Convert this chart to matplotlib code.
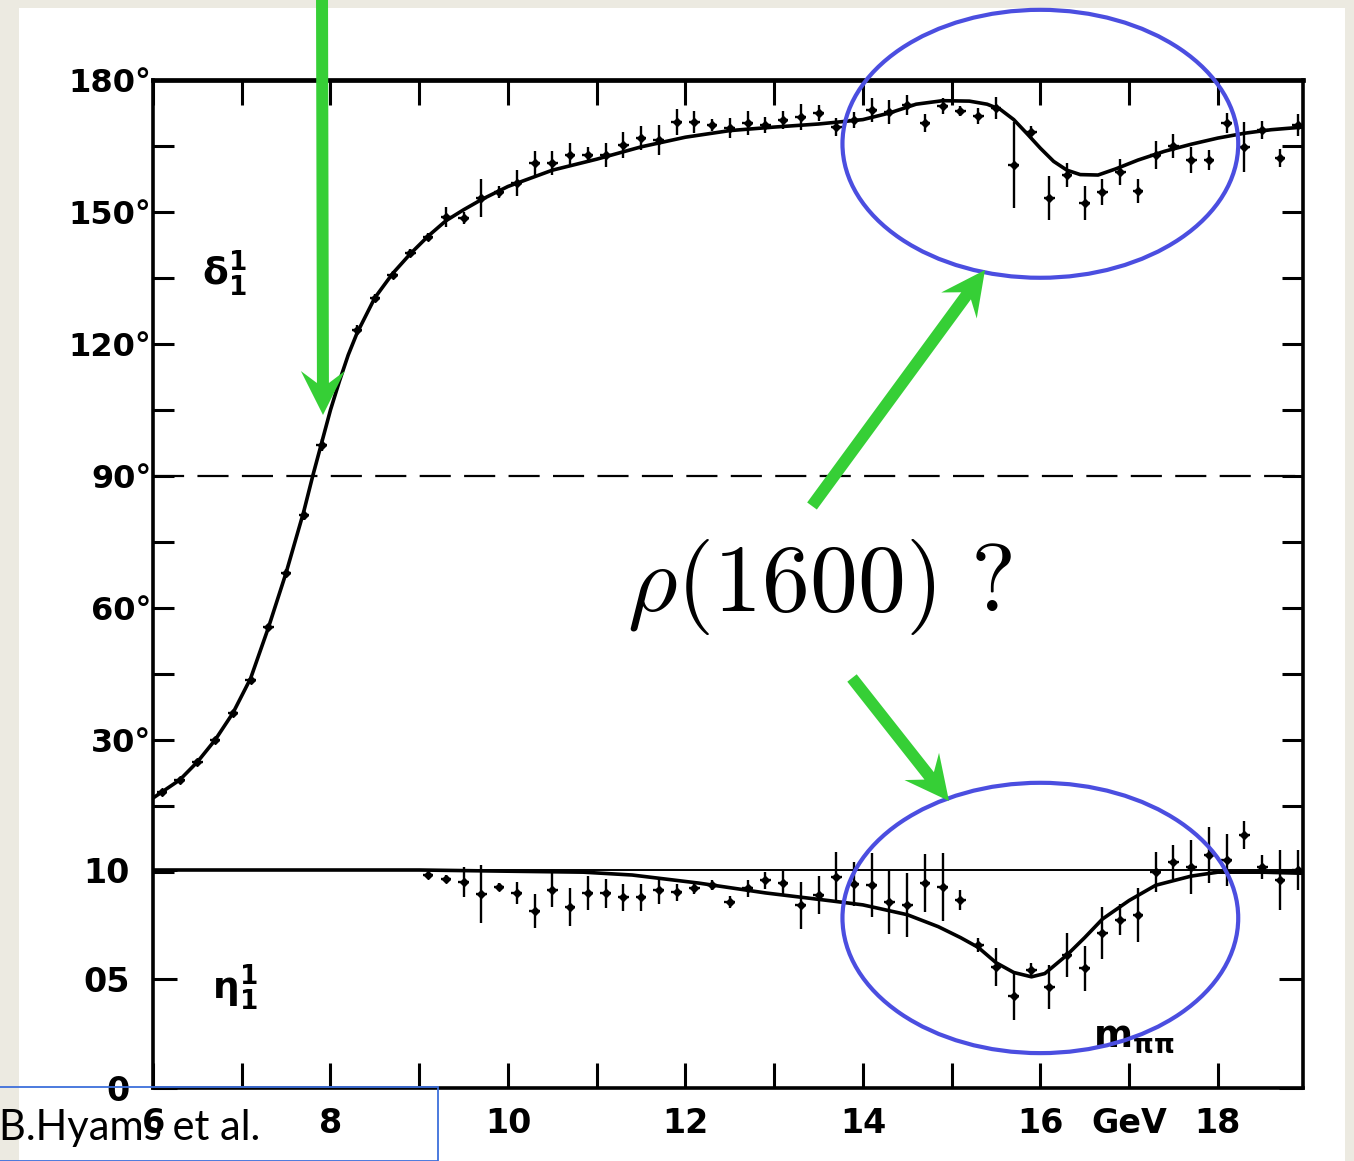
import numpy as np
import matplotlib
matplotlib.use("Agg")
import matplotlib.pyplot as plt
from matplotlib import font_manager
from matplotlib.patches import Ellipse, Polygon, Rectangle

# ---- data (m_pipi in units of 100 MeV) ----
delta_fit_x = [6.0, 6.3, 6.5, 6.7, 6.9, 7.1, 7.3, 7.5, 7.7, 7.8, 7.9, 8.0, 8.1, 8.2,
               8.3, 8.5, 8.7, 8.9, 9.1, 9.3, 9.5, 9.7, 10.0, 10.5, 11.0, 11.5, 12.0,
               12.5, 13.0, 13.5, 14.0, 14.3, 14.6, 14.9, 15.2, 15.4, 15.55, 15.7,
               15.85, 16.0, 16.15, 16.3, 16.45, 16.65, 16.85, 17.1, 17.4, 17.7,
               18.0, 18.3, 18.6, 18.96]
delta_fit = [16.8, 20.9, 25.0, 30.0, 36.1, 44.0, 55.5, 68.0, 82.0, 90.0, 97.5, 105.0,
             111.5, 117.5, 122.5, 130.5, 136.0, 140.5, 144.5, 148.0, 150.5, 152.8,
             155.8, 159.5, 162.0, 164.8, 167.0, 168.5, 169.3, 170.0, 171.0, 172.5,
             174.5, 175.3, 175.2, 174.5, 173.3, 171.0, 167.8, 164.5, 161.5, 159.5,
             158.5, 158.4, 159.8, 161.8, 163.8, 165.4, 166.8, 167.9, 168.7, 169.3]

delta_x = [6.1, 6.3, 6.5, 6.7, 6.9, 7.1, 7.3, 7.5, 7.7, 7.9, 8.3, 8.5, 8.7, 8.9, 9.1,
           9.3, 9.5, 9.7, 9.9, 10.1, 10.3, 10.5, 10.7, 10.9, 11.1, 11.3, 11.5, 11.7,
           11.9, 12.1, 12.3, 12.5, 12.7, 12.9, 13.1, 13.3, 13.5, 13.7, 13.9, 14.1,
           14.3, 14.5, 14.7, 14.9, 15.1, 15.3, 15.5, 15.7, 15.9, 16.1, 16.3, 16.5,
           16.7, 16.9, 17.1, 17.3, 17.5, 17.7, 17.9, 18.1, 18.3, 18.5, 18.7, 18.9]
delta = [18.2, 20.9, 25.0, 30.0, 36.1, 43.6, 55.7, 68.0, 81.1, 97.0, 123.2, 130.5,
         135.7, 140.7, 144.3, 148.9, 148.6, 153.2, 154.5, 156.6, 161.1, 161.1, 162.9,
         162.9, 162.9, 165.2, 166.8, 166.4, 170.5, 170.5, 169.8, 169.1, 170.2, 169.8,
         170.9, 171.6, 172.5, 169.3, 170.9, 173.2, 172.7, 174.3, 170.2, 174.1, 173.0,
         171.8, 173.6, 160.7, 168.2, 153.2, 158.4, 152.0, 154.5, 159.1, 154.8, 162.9,
         165.0, 161.8, 161.8, 170.2, 164.8, 168.6, 162.3, 169.8]
delta_err = [0.7, 0.7, 0.7, 0.7, 0.7, 0.7, 0.7, 0.9, 1.1, 1.4, 1.1, 0.9, 0.9, 0.9, 0.9,
             2.3, 1.4, 4.3, 1.4, 3.0, 2.7, 2.7, 2.7, 1.8, 2.7, 3.0, 2.7, 3.4, 3.0, 2.5,
             1.4, 2.3, 2.7, 1.8, 2.0, 3.0, 1.8, 2.0, 1.8, 2.7, 2.7, 2.3, 2.0, 1.8, 1.1,
             1.8, 2.5, 9.8, 1.4, 5.0, 2.7, 3.9, 3.0, 3.0, 2.7, 3.2, 2.7, 3.0, 2.3, 2.3,
             5.7, 2.0, 2.0, 2.5]

eta_fit_x = [6.0, 9.0, 9.9, 10.85, 11.4, 12.15, 12.9, 13.65, 14.0, 14.5, 14.85, 15.1,
             15.3, 15.5, 15.7, 15.9, 16.05, 16.3, 16.5, 16.7, 17.0, 17.3, 17.7, 18.0,
             18.5, 18.96]
eta_fit = [1.0, 1.0, 0.995, 0.99, 0.977, 0.94, 0.895, 0.858, 0.84, 0.795, 0.74, 0.69,
           0.645, 0.575, 0.53, 0.51, 0.525, 0.61, 0.69, 0.775, 0.86, 0.93, 0.972, 0.99,
           0.99, 0.985]

eta_x = [9.1, 9.3, 9.5, 9.7, 9.9, 10.1, 10.3, 10.5, 10.7, 10.9, 11.1, 11.3, 11.5, 11.7,
         11.9, 12.1, 12.3, 12.5, 12.7, 12.9, 13.1, 13.3, 13.5, 13.7, 13.9, 14.1, 14.3,
         14.5, 14.7, 14.9, 15.1, 15.3, 15.5, 15.7, 15.9, 16.1, 16.3, 16.5, 16.7, 16.9,
         17.1, 17.3, 17.5, 17.7, 17.9, 18.1, 18.3, 18.5, 18.7, 18.9]
eta = [0.977, 0.959, 0.945, 0.890, 0.922, 0.894, 0.812, 0.908, 0.830, 0.894, 0.894,
       0.876, 0.876, 0.908, 0.899, 0.917, 0.931, 0.853, 0.917, 0.954, 0.940, 0.839,
       0.885, 0.968, 0.936, 0.931, 0.853, 0.839, 0.940, 0.922, 0.862, 0.656, 0.555,
       0.422, 0.541, 0.463, 0.610, 0.550, 0.711, 0.771, 0.794, 0.991, 1.037, 1.014,
       1.069, 1.046, 1.161, 1.014, 0.954, 1.000]
eta_err = [0.014, 0.016, 0.067, 0.135, 0.018, 0.050, 0.080, 0.078, 0.087, 0.078, 0.067,
           0.062, 0.062, 0.062, 0.039, 0.028, 0.023, 0.028, 0.039, 0.039, 0.057, 0.108,
           0.089, 0.115, 0.100, 0.147, 0.145, 0.145, 0.133, 0.154, 0.046, 0.032, 0.087,
           0.112, 0.032, 0.099, 0.099, 0.103, 0.119, 0.071, 0.122, 0.092, 0.076, 0.122,
           0.128, 0.119, 0.064, 0.057, 0.138, 0.090]

deg_ticks = list(range(0, 181, 15))
deg_labels = ["" if (d % 30 or d == 0) else f"{d}\u00b0" for d in deg_ticks]
eta_ticks = [0, 0.5, 1.0]
eta_labels = ["0", "05", "10"]
x_major = [6, 8, 10, 12, 14, 16, 17, 18]
x_labels = ["6", "8", "10", "12", "14", "16", "GeV", "18"]
x_minor = [7, 9, 11, 13, 15]

W, H = 1354, 1161
GREEN = "#36CF36"
BLUE = "#4B4EE0"

names = {f.name for f in font_manager.fontManager.ttflist}
tick_font = "Liberation Sans Narrow" if "Liberation Sans Narrow" in names else "DejaVu Sans"
plt.rcParams["font.family"] = [tick_font, "DejaVu Sans"]
plt.rcParams["font.weight"] = "bold"


def fxy(x, y):
    # pixel position (y from top) -> figure fraction
    return (x / W, 1 - y / H)


def add_arrow(fig, tail, tip, shaft=12, head_w=44, head_l=44, notch=12):
    p0 = np.array(tail, float)
    p1 = np.array(tip, float)
    u = (p1 - p0) / np.hypot(*(p1 - p0))
    n = np.array([-u[1], u[0]])
    base = p1 - u * head_l
    join = p1 - u * (head_l - notch)
    pts = [p0 + n * shaft / 2, join + n * shaft / 2, base + n * head_w / 2, p1,
           base - n * head_w / 2, join - n * shaft / 2, p0 - n * shaft / 2]
    fig.add_artist(Polygon([fxy(*p) for p in pts], closed=True, transform=fig.transFigure,
                           facecolor=GREEN, edgecolor="none", zorder=5))


fig = plt.figure(figsize=(W / 100, H / 100), dpi=100)
fig.patch.set_facecolor("#ECEAE1")
fig.add_artist(Rectangle((19 / W, 0), (1345 - 19) / W, 1 - 8 / H, transform=fig.transFigure,
                         facecolor="white", edgecolor="none", zorder=-10))

ax = fig.add_axes([153 / W, 1 - 1088 / H, (1303 - 153) / W, (1088 - 80) / H])
ax.set_facecolor("white")
ax.set_xlim(6, 18.96)
ax.set_ylim(-49.1, 180)
ax2 = ax.twinx()
ax2.set_ylim(0, 1008 / 218)

# phase shift
ax.plot(delta_fit_x, delta_fit, color="black", lw=2.6, solid_capstyle="round", zorder=3)
ax.errorbar(delta_x, delta, yerr=delta_err, xerr=0.06, fmt="D", ms=3.8, color="black",
            elinewidth=1.7, capsize=0, zorder=4)
ax.axhline(90, color="black", lw=1.6, linestyle=(0, (14, 6)), zorder=2)

# inelasticity
ax2.axhline(1.0, color="black", lw=1.4, zorder=2)
ax2.plot(eta_fit_x, eta_fit, color="black", lw=2.6, zorder=3)
ax2.errorbar(eta_x, eta, yerr=eta_err, xerr=0.06, fmt="D", ms=3.8, color="black",
             elinewidth=1.7, capsize=0, zorder=4, clip_on=False)

# axes styling
for s in ax.spines.values():
    s.set_linewidth(2.6)
ax.spines["top"].set_linewidth(3.4)
for s in ax2.spines.values():
    s.set_visible(False)

ax.set_xticks(x_major)
ax.set_xticklabels(x_labels)
ax.set_xticks(x_minor, minor=True)
ax.tick_params(axis="x", which="both", direction="in", top=True, bottom=True,
               length=18, width=2.2, pad=14, labelsize=24)
ax.set_yticks(deg_ticks)
ax.set_yticklabels(deg_labels)
ax.tick_params(axis="y", direction="in", left=True, right=True, length=15, width=2.2,
               pad=1, labelsize=23)
ax2.set_yticks(eta_ticks)
ax2.set_yticklabels(eta_labels)
ax2.tick_params(axis="y", direction="in", left=True, right=True, labelleft=True,
                labelright=False, length=17, width=2.2, pad=17, labelsize=24)

ax.text(6.8, 136, r"$\mathrm{\delta}_1^1$", fontsize=27, math_fontfamily="dejavusans",
        ha="center", va="center")
ax2.text(6.92, 0.46, r"$\mathrm{\eta}_1^1$", fontsize=27, math_fontfamily="dejavusans",
         ha="center", va="center")
ax2.text(16.59, 0.19, r"$\mathbf{m}_{\mathrm{\pi\pi}}$", fontsize=27,
         math_fontfamily="dejavusans", ha="left", va="baseline")

# annotations
ax.add_patch(Ellipse((16.0, 165.5), 4.46, 60.9, fill=False, edgecolor=BLUE, lw=3.0,
                     clip_on=False, zorder=6))
ax2.add_patch(Ellipse((16.0, 0.78), 4.46, 1.24, fill=False, edgecolor=BLUE, lw=3.0,
                      clip_on=False, zorder=6))

add_arrow(fig, (322, -10), (323, 415))
add_arrow(fig, (812, 506), (985, 270))
add_arrow(fig, (852, 678), (949, 801))

fig.text(*fxy(820, 611), r"$\rho(1600)\ ?$", fontsize=69, math_fontfamily="cm",
         ha="center", va="baseline", zorder=7)

fig.add_artist(Rectangle((-5 / W, 0), 443 / W, (H - 1087) / H, transform=fig.transFigure,
                         fill=False, edgecolor="#3D6FDB", lw=1.3, zorder=6))
fig.text(*fxy(-1, 1140), "B.Hyams et al.", fontsize=30, fontfamily="Lato",
         fontweight="normal", ha="left", va="baseline", zorder=7)

fig.savefig("out.png", dpi=100, facecolor=fig.get_facecolor())
